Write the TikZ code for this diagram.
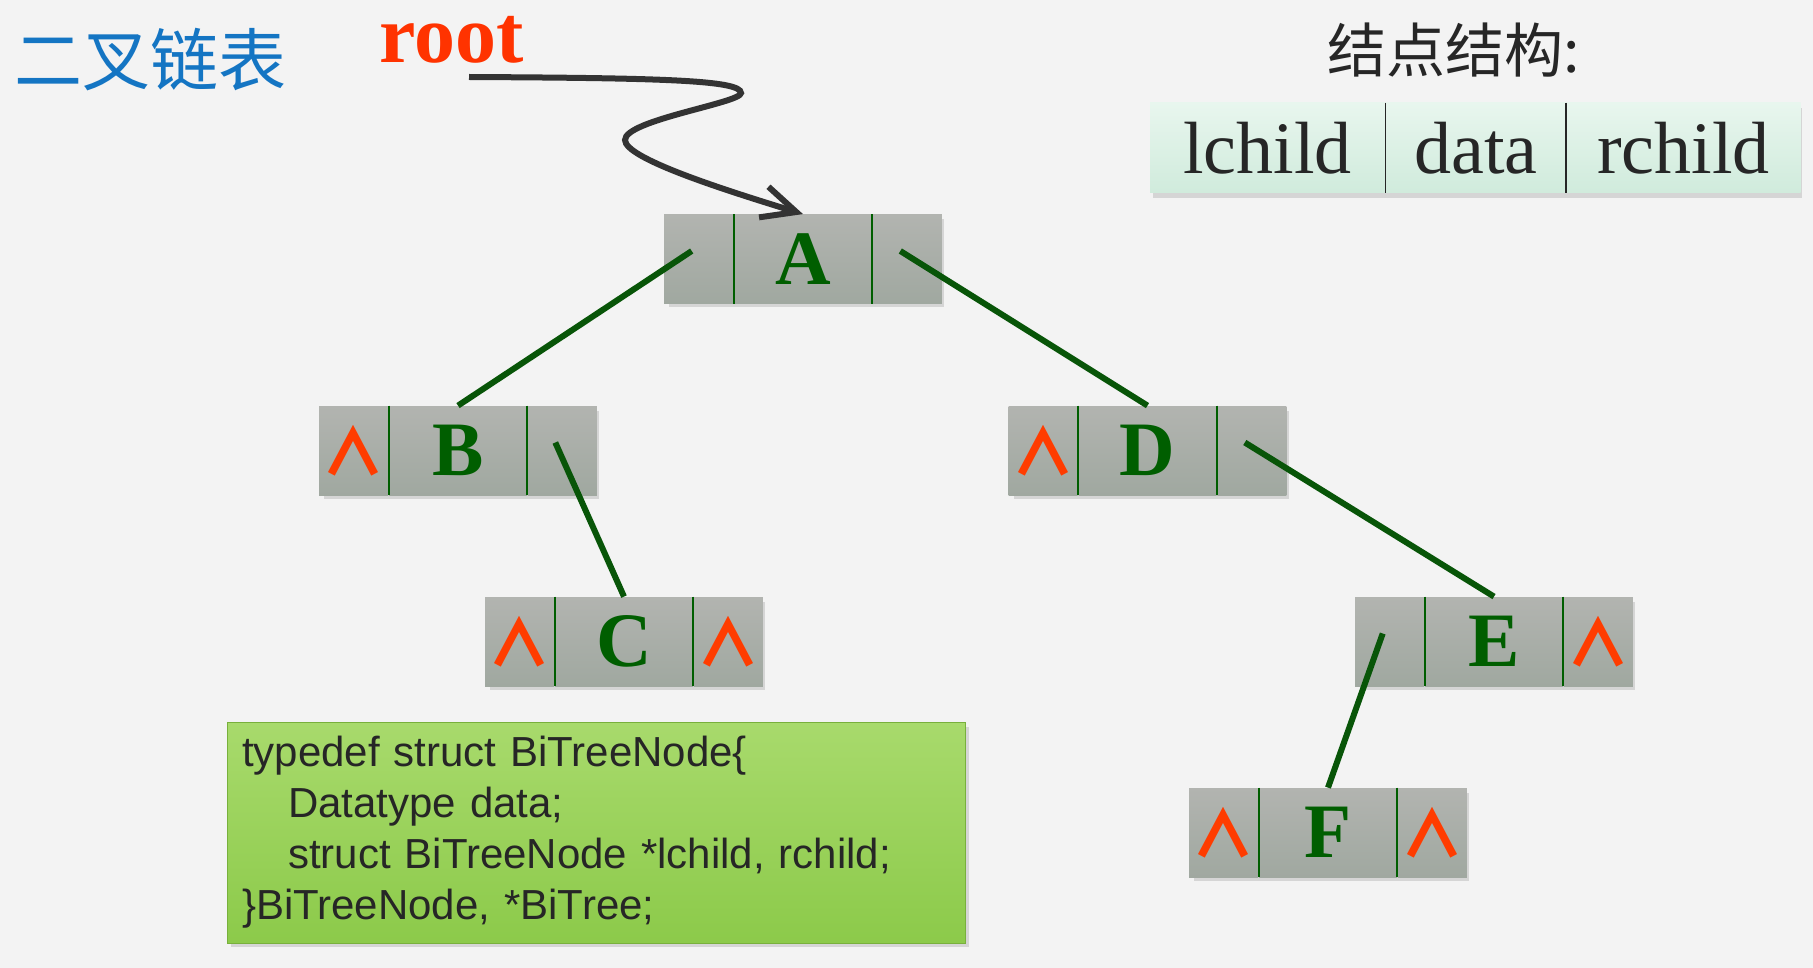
\documentclass[tikz,border=0pt]{standalone}
\usepackage{fontspec}
\setmainfont{Liberation Serif}
\newfontfamily\cjkfont{Noto Sans CJK SC}
\newfontfamily\codefont{Liberation Sans}
\usetikzlibrary{positioning,arrows.meta}

\definecolor{pagebg}{RGB}{243,243,243}
\definecolor{titleblue}{RGB}{20,117,195}
\definecolor{rootred}{RGB}{255,51,0}
\definecolor{nilred}{RGB}{255,60,0}
\definecolor{cellgray}{RGB}{160,168,160}
\definecolor{celltop}{RGB}{178,180,176}
\definecolor{letgreen}{RGB}{0,94,0}
\definecolor{linkgreen}{RGB}{8,85,8}
\definecolor{arrowgray}{RGB}{51,51,51}
\definecolor{textdark}{RGB}{38,38,38}
\definecolor{fieldmint}{RGB}{208,235,220}
\definecolor{fieldtop}{RGB}{232,246,238}
\definecolor{codegreen}{RGB}{140,202,74}
\definecolor{codetop}{RGB}{168,218,108}
\definecolor{codeedge}{RGB}{120,176,60}

\tikzset{
    datacell/.style={rectangle, inner sep=0pt, minimum width=69pt, minimum height=44.5pt,
        top color=celltop, bottom color=cellgray, text=letgreen,
        font=\bfseries\fontsize{38.5pt}{38.5pt}\selectfont},
    sidecell/.style={datacell, minimum width=34.5pt, text=nilred,
        font=\cjkfont\bfseries\fontsize{32pt}{32pt}\selectfont},
    divider/.style={draw=letgreen, line width=1pt},
    link/.style={draw=linkgreen, line width=3pt},
    fieldcell/.style={rectangle, inner sep=0pt, minimum height=45pt,
        top color=fieldtop, bottom color=fieldmint, text=textdark,
        font=\fontsize{37pt}{37pt}\selectfont},
    codebox/.style={rectangle, draw=codeedge, top color=codetop, bottom color=codegreen,
        minimum height=110.5pt, text width=354pt, inner xsep=7.5pt, align=left,
        text=textdark, font=\codefont\fontsize{21pt}{25.5pt}\selectfont}
}

\begin{document}
\begin{tikzpicture}[x=0.5pt, y=-0.5pt]
    % Page
    \fill[pagebg] (0,0) rectangle (1813,968);
    \useasboundingbox (0,0) rectangle (1813,968);

    % Titles
    \node[text=titleblue, inner sep=0pt, font=\cjkfont\fontsize{34pt}{34pt}\selectfont] (title) at (150,60) {二叉链表};
    \node[text=rootred, inner sep=0pt, anchor=base, font=\bfseries\fontsize{41pt}{41pt}\selectfont] (root) at (452,63) {root};
    \node[text=textdark, inner sep=0pt, font=\cjkfont\fontsize{29.5pt}{29.5pt}\selectfont] (legend) at (1454,50) {结点结构:};

    % Node structure
    \fill[black, opacity=0.12] (1153,108) rectangle (1802,198);
    \node[fieldcell, minimum width=117.5pt] (lc) at (1267.5,148) {lchild};
    \node[fieldcell, minimum width=90pt, right=0pt of lc] (dc) {data};
    \node[fieldcell, minimum width=117pt, right=0pt of dc] (rc) {rchild};
    \draw[thick, textdark] (lc.north east) -- (lc.south east);
    \draw[thick, textdark] (dc.north east) -- (dc.south east);

    % Tree nodes
    \foreach \n/\x/\y/\l/\r in {A/803/259/{}/{}, B/458/450.5/∧/{}, D/1147.5/450.5/∧/{},
        C/624/641.5/∧/∧, E/1494/641.5/{}/∧, F/1328/832.5/∧/∧} {
        \fill[black, opacity=0.12] (\x-134,\y-40) rectangle (\x+141,\y+48);
        \node[datacell] (\n) at (\x,\y) {\n};
        \node[sidecell, left=0pt of \n] (\n-l) {\l};
        \node[sidecell, right=0pt of \n] (\n-r) {\r};
        \draw[divider] (\n-l.north east) -- (\n-l.south east);
        \draw[divider] (\n-r.north west) -- (\n-r.south west);
        \coordinate (\n-lp) at ([xshift=-3.5pt, yshift=4pt]\n-l.center);
        \coordinate (\n-rp) at ([xshift=-3.5pt, yshift=4pt]\n-r.center);
    }

    % Links
    \draw[link] (A-lp) -- (B.north);
    \draw[link] (A-rp) -- (D.north);
    \draw[link] (B-rp) -- (C.north);
    \draw[link] (D-rp) -- (E.north);
    \draw[link] (E-lp) -- (F.north);

    % root pointer
    \coordinate (tail) at (469,77);
    \draw[arrowgray, line width=3pt, -{Straight Barb[length=17pt,width=16pt]}]
        (tail) .. controls (660,78) and (741,80) .. (741,93)
        .. controls (741,103) and (625,120) .. (625,140)
        .. controls (625,158) and (718,188) .. (A.north);

    % Type definition
    \fill[black, opacity=0.12] (231,727) rectangle (969,947);
    \node[codebox] (code) at (596,832.5) {typedef struct BiTreeNode\{\\
        \hspace*{23pt}Datatype data;\\
        \hspace*{23pt}struct BiTreeNode *lchild, rchild;\\
        \}BiTreeNode, *BiTree;};
\end{tikzpicture}
\end{document}
